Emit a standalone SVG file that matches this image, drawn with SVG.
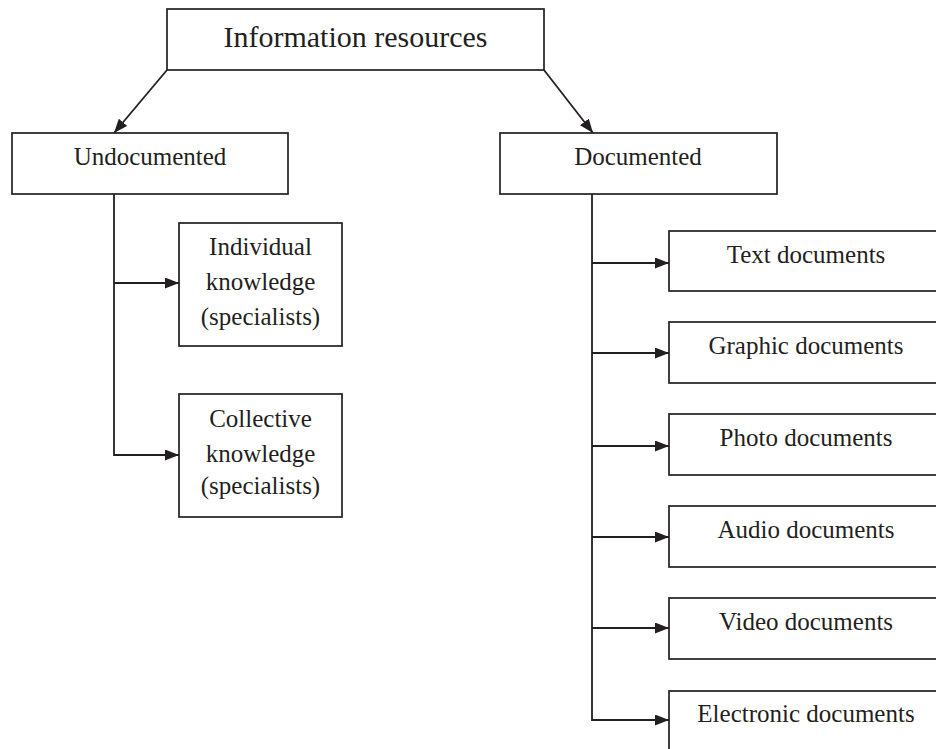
<svg xmlns="http://www.w3.org/2000/svg" width="936" height="749" viewBox="0 0 936 749">
<style>
.box{fill:#ffffff;stroke:#231f20;stroke-width:1.7}
.t{font-family:"Liberation Serif","Times New Roman",serif;font-size:25px;fill:#231f20;text-anchor:middle}
.big{font-size:30px}
.c{fill:none;stroke:#231f20;stroke-width:1.8}
</style>
<defs>
<marker id="ah" viewBox="0 0 14 11" refX="14" refY="5.5" markerWidth="14" markerHeight="11" markerUnits="userSpaceOnUse" orient="auto">
<path d="M0,0 L14,5.5 L0,11 Z" fill="#231f20"/>
</marker>
</defs>
<rect width="936" height="749" fill="#ffffff"/>
<g id="connectors">
<line class="c" x1="167" y1="70" x2="114" y2="133" marker-end="url(#ah)"/>
<line class="c" x1="544" y1="70" x2="593" y2="133" marker-end="url(#ah)"/>
<polyline class="c" points="114,194 114,455 179,455" marker-end="url(#ah)"/>
<line class="c" x1="114" y1="283" x2="179" y2="283" marker-end="url(#ah)"/>
<polyline class="c" points="592,194 592,720 669,720" marker-end="url(#ah)"/>
<line class="c" x1="592" y1="263" x2="669" y2="263" marker-end="url(#ah)"/>
<line class="c" x1="592" y1="353" x2="669" y2="353" marker-end="url(#ah)"/>
<line class="c" x1="592" y1="446" x2="669" y2="446" marker-end="url(#ah)"/>
<line class="c" x1="592" y1="537" x2="669" y2="537" marker-end="url(#ah)"/>
<line class="c" x1="592" y1="628" x2="669" y2="628" marker-end="url(#ah)"/>
</g>
<g id="info">
<rect class="box" x="167" y="9" width="377" height="61"/>
<text class="t big" x="355.5" y="47">Information resources</text>
</g>
<g id="undocumented">
<rect class="box" x="12" y="133" width="276" height="61"/>
<text class="t" x="150" y="165">Undocumented</text>
</g>
<g id="documented">
<rect class="box" x="500" y="133" width="277" height="61"/>
<text class="t" x="638" y="165">Documented</text>
</g>
<g id="individual">
<rect class="box" x="179" y="223" width="163" height="123"/>
<text class="t" x="260.5" y="255">Individual</text>
<text class="t" x="260.5" y="290">knowledge</text>
<text class="t" x="260.5" y="325">(specialists)</text>
</g>
<g id="collective">
<rect class="box" x="179" y="394" width="163" height="123"/>
<text class="t" x="260.5" y="427">Collective</text>
<text class="t" x="260.5" y="462">knowledge</text>
<text class="t" x="260.5" y="494">(specialists)</text>
</g>
<g id="text-docs">
<rect class="box" x="669" y="231" width="280" height="60"/>
<text class="t" x="806" y="263">Text documents</text>
</g>
<g id="graphic-docs">
<rect class="box" x="669" y="322" width="280" height="61"/>
<text class="t" x="806" y="354">Graphic documents</text>
</g>
<g id="photo-docs">
<rect class="box" x="669" y="414" width="280" height="61"/>
<text class="t" x="806" y="446">Photo documents</text>
</g>
<g id="audio-docs">
<rect class="box" x="669" y="506" width="280" height="61"/>
<text class="t" x="806" y="538">Audio documents</text>
</g>
<g id="video-docs">
<rect class="box" x="669" y="598" width="280" height="61"/>
<text class="t" x="806" y="630">Video documents</text>
</g>
<g id="electronic-docs">
<rect class="box" x="669" y="691" width="280" height="70"/>
<text class="t" x="806" y="722">Electronic documents</text>
</g>
</svg>
